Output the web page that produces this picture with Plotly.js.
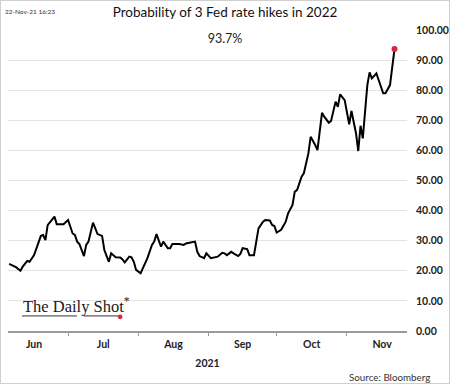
<!DOCTYPE html>
<html>
<head>
<meta charset="utf-8">
<script src="https://cdn.plot.ly/plotly-3.0.1.min.js"></script>
<style>
html,body{margin:0;padding:0;background:#fff;}
#wrap{position:relative;width:450px;height:384px;}
#chart{width:450px;height:384px;}
#frame{position:absolute;left:0;top:0;width:448px;height:382px;border:1px solid #cfcfcf;pointer-events:none;}
</style>
</head>
<body>
<div id="wrap"><div id="chart"></div><div id="frame"></div></div>
<script>
// Data
const dates = [
"2021-06-05","2021-06-08","2021-06-10","2021-06-11","2021-06-13","2021-06-14","2021-06-16","2021-06-18","2021-06-19","2021-06-20","2021-06-21","2021-06-22","2021-06-24","2021-06-25","2021-06-26","2021-06-28","2021-06-29",
"2021-07-01","2021-07-03","2021-07-04","2021-07-05","2021-07-06","2021-07-08","2021-07-09","2021-07-10","2021-07-12","2021-07-13","2021-07-14","2021-07-16","2021-07-17","2021-07-19","2021-07-20","2021-07-22","2021-07-24","2021-07-25","2021-07-26","2021-07-28","2021-07-29","2021-07-30","2021-07-31",
"2021-08-02","2021-08-04","2021-08-05","2021-08-07","2021-08-08","2021-08-09","2021-08-11","2021-08-12","2021-08-14","2021-08-15","2021-08-16","2021-08-19","2021-08-21","2021-08-22","2021-08-24","2021-08-26","2021-08-27","2021-08-28","2021-08-30","2021-08-31",
"2021-09-02","2021-09-04","2021-09-05","2021-09-07","2021-09-08","2021-09-09","2021-09-11","2021-09-12","2021-09-14","2021-09-15","2021-09-16","2021-09-18","2021-09-19","2021-09-21","2021-09-22","2021-09-23","2021-09-25","2021-09-26","2021-09-28","2021-09-29","2021-09-30",
"2021-10-01","2021-10-03","2021-10-04","2021-10-05","2021-10-06","2021-10-08","2021-10-09","2021-10-10","2021-10-12","2021-10-13","2021-10-15","2021-10-16","2021-10-18","2021-10-19","2021-10-21","2021-10-22","2021-10-24","2021-10-25","2021-10-27","2021-10-28","2021-10-29","2021-10-31",
"2021-11-02","2021-11-03","2021-11-05","2021-11-06","2021-11-07","2021-11-08","2021-11-10","2021-11-11","2021-11-12","2021-11-14","2021-11-15","2021-11-17","2021-11-18","2021-11-20","2021-11-22"
];
const probability = [
22.3,21.2,20.0,21.4,23.3,23.0,25.2,29.7,31.6,31.9,30.2,35.2,36.9,38.0,35.5,35.5,35.5,
36.9,32.4,31.9,29.7,28.9,24.9,28.6,29.7,36.0,34.1,32.2,31.6,26.9,23.0,25.8,24.5,24.4,23.8,22.8,24.7,24.5,23.0,20.3,
19.2,22.3,24.2,28.6,29.7,32.2,28.0,29.7,27.5,27.5,28.9,28.9,28.6,29.1,29.5,29.7,26.3,24.9,24.2,25.8,
24.2,24.5,24.7,26.0,25.8,25.2,26.3,25.8,24.9,25.6,27.5,27.2,25.2,25.2,30.2,34.1,36.3,36.9,36.7,35.2,34.9,
32.7,33.6,35.2,36.3,39.0,41.9,46.3,46.8,51.3,52.4,59.0,64.5,61.8,60.1,72.5,71.2,69.2,69.8,76.2,74.5,78.6,76.7,
68.7,73.1,65.7,59.8,68.2,64.0,81.7,85.9,83.9,85.6,83.4,79.0,79.0,81.7,93.7
];
const titleText = "Probability of 3 Fed rate hikes in 2022";
const stampText = "22-Nov-21 16:23";
const latestLabel = "93.7%";
const yearLabel = "2021";
const sourceText = "Source: Bloomberg";
const logoText = "The Daily Shot";

const lastIdx = dates.length - 1;
const traces = [
  {x: dates, y: probability, type: "scatter", mode: "lines",
   line: {color: "#000000", width: 2}, hoverinfo: "skip", showlegend: false},
  {x: [dates[lastIdx]], y: [probability[lastIdx]], type: "scatter", mode: "markers",
   marker: {color: "#d7263d", size: 6}, hoverinfo: "skip", showlegend: false}
];

const layout = {
  width: 450, height: 384,
  margin: {l: 8, r: 43, t: 30, b: 53},
  paper_bgcolor: "#ffffff", plot_bgcolor: "#ffffff",
  font: {family: "Lato, 'Liberation Sans', sans-serif", color: "#222"},
  title: {text: titleText, x: 0.5, xref: "container", xanchor: "center", y: 0.968, yref: "container", yanchor: "middle",
          font: {family: "Lato, sans-serif", size: 13.5, color: "#111"}},
  xaxis: {
    type: "date",
    range: ["2021-06-04 12:00", "2021-11-27 12:00"],
    dtick: "M1", tick0: "2021-06-01", tickformat: "%b", ticklabelmode: "period",
    ticks: "outside", ticklen: 3, tickcolor: "#999", tickwidth: 1,
    showline: true, linecolor: "#9a9a9a", linewidth: 1.5,
    showgrid: false, zeroline: false,
    tickfont: {family: "Lato, sans-serif", size: 10.5, color: "#222", weight: "bold"},
    title: {text: "<b>" + yearLabel + "</b>", standoff: 10, font: {family: "Lato, sans-serif", size: 10.5, color: "#222"}}
  },
  yaxis: {
    side: "right", range: [0, 100], dtick: 10, tickformat: ".2f",
    showgrid: true, gridcolor: "#e4e4e4", gridwidth: 1,
    zeroline: false, showline: false, ticks: "",
    ticklabelstandoff: 8,
    tickfont: {family: "Lato, sans-serif", size: 10.5, color: "#222", weight: "bold"}
  },
  annotations: [
    {text: latestLabel, xref: "paper", yref: "paper", x: 0.545, y: 0.975, xanchor: "center", yanchor: "middle",
     showarrow: false, bgcolor: "#ffffff", width: 118, height: 22,
     font: {family: "Lato, sans-serif", size: 12.5, color: "#222"}},
    {text: stampText, xref: "paper", yref: "paper", x: -0.012, y: 1.06, xanchor: "left", yanchor: "middle",
     showarrow: false, font: {family: "Lato, sans-serif", size: 6.5, color: "#333"}},
    {text: sourceText, xref: "paper", yref: "paper", x: 1.063, y: -0.152, xanchor: "right", yanchor: "middle",
     showarrow: false, font: {family: "Lato, sans-serif", size: 9.8, color: "#333"}},
    {text: logoText + "<sup>*</sup>", xref: "paper", yref: "paper", x: 0.033, y: 0.085, xanchor: "left", yanchor: "middle",
     showarrow: false, font: {family: "'Liberation Serif', 'DejaVu Serif', serif", size: 16.5, color: "#1a1a1a"}}
  ],
  shapes: [
    {type: "line", xref: "paper", yref: "paper", x0: 0.035, x1: 0.173, y0: 0.05, y1: 0.05, line: {color: "#333", width: 1}},
    {type: "line", xref: "paper", yref: "paper", x0: 0.19, x1: 0.276, y0: 0.05, y1: 0.05, line: {color: "#333", width: 1}},
    {type: "circle", xref: "paper", yref: "paper", x0: 0.275, x1: 0.287, y0: 0.039, y1: 0.055, fillcolor: "#d7263d", line: {width: 0}}
  ]
};

Plotly.newPlot("chart", traces, layout, {staticPlot: true, displayModeBar: false});
</script>
</body>
</html>
